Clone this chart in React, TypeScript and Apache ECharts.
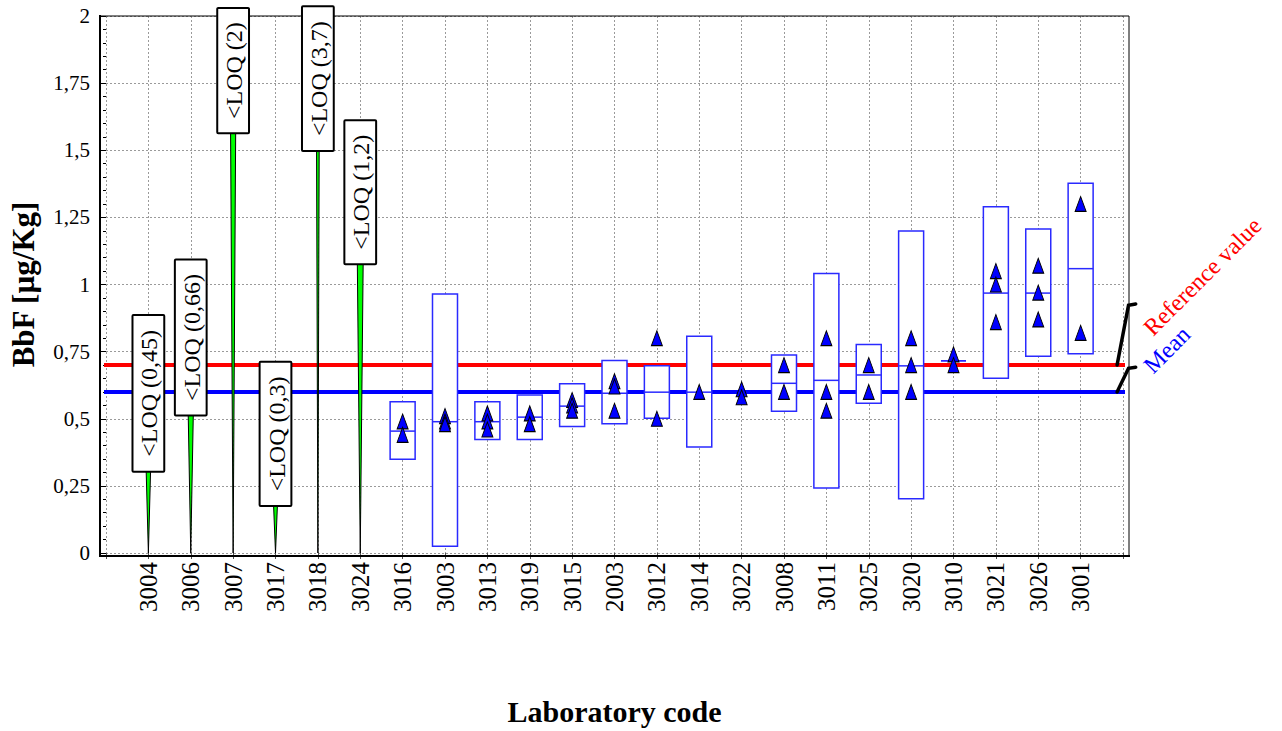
import React, { useEffect, useRef } from "react";
import * as echarts from "echarts";

// ---------- DATA ----------
const labCodes = [
  "3004", "3006", "3007", "3017", "3018", "3024", "3016", "3003", "3013", "3019", "3015", "2003",
  "3012", "3014", "3022", "3008", "3011", "3025", "3020", "3010", "3021", "3026", "3001",
];

// Labs reporting "<LOQ" (first six lab codes)
const loqValues = [0.45, 0.66, 2, 0.3, 3.7, 1.2];
const loqBoxLow = [0.303, 0.512, 1.563, 0.175, 1.497, 1.075];
const loqBoxHigh = [0.886, 1.093, 2.03, 0.712, 2.036, 1.612];

// Uncertainty boxes (aligned with labCodes; null = no box)
const boxLow = [null, null, null, null, null, null, 0.349, 0.025, 0.423, 0.423, 0.471, 0.481, 0.502, 0.395, null, 0.528, 0.242, 0.558, 0.202, 0.716, 0.651, 0.733, 0.742];
const boxMid = [null, null, null, null, null, null, 0.454, 0.489, 0.489, 0.506, 0.547, 0.595, 0.599, 0.599, null, 0.632, 0.643, 0.663, 0.697, 0.716, 0.968, 0.968, 1.059];
const boxHigh = [null, null, null, null, null, null, 0.563, 0.965, 0.563, 0.588, 0.63, 0.717, 0.697, 0.807, null, 0.737, 1.041, 0.777, 1.199, 0.716, 1.29, 1.207, 1.377];

// Individual results (triangles), aligned with labCodes
const results: number[][] = [
  [], [], [], [], [], [],
  [0.49, 0.44],
  [0.51, 0.49, 0.48],
  [0.52, 0.49, 0.46],
  [0.52, 0.48],
  [0.57, 0.55, 0.53],
  [0.64, 0.62, 0.53],
  [0.8, 0.5],
  [0.6],
  [0.61, 0.58],
  [0.7, 0.6],
  [0.8, 0.6, 0.53],
  [0.7, 0.6],
  [0.8, 0.7, 0.6],
  [0.74, 0.7],
  [1.05, 1.0, 0.86],
  [1.07, 0.97, 0.87],
  [1.3, 0.82],
];

const referenceValue = 0.7;
const meanValue = 0.6;
const yTicks = [0, 0.25, 0.5, 0.75, 1, 1.25, 1.5, 1.75, 2];

const annotationLabels = ["Reference value", "Mean"];
const annotationColors = ["#ff0000", "#0000ff"];
const annotationLineValues = [referenceValue, meanValue];
const annotationTopValues = [0.923, 0.688];
const annotationTextValues = [0.826, 0.685];

// ---------- STYLE CONSTANTS ----------
const FONT = "Liberation Serif";
const BOX_W = 0.59; // in category units
const LOQ_BOX_W = 0.75;
const BLUE_BOX = "#2a2aff";

export default function App() {
  const ref = useRef<HTMLDivElement>(null);

  useEffect(() => {
    if (!ref.current) return;
    const chart = echarts.init(ref.current, null, { renderer: "svg" });

    const loqData = loqValues.map((v, i) => [i + 1, v, loqBoxLow[i], loqBoxHigh[i]]);
    const boxData: number[][] = [];
    labCodes.forEach((_, i) => {
      if (boxLow[i] != null) boxData.push([i + 1, boxLow[i] as number, boxMid[i] as number, boxHigh[i] as number]);
    });
    const scatterData: number[][] = [];
    results.forEach((arr, i) => arr.forEach((v) => scatterData.push([i + 1, v])));
    const annData = annotationLabels.map((_, i) => [i, annotationLineValues[i], annotationTopValues[i], annotationTextValues[i]]);

    const fmtNum = (v: number) => String(v).replace(".", ",");

    const option: any = {
      animation: false,
      textStyle: { fontFamily: FONT },
      grid: { left: 104, right: 159, top: 16, bottom: 175, containLabel: false },
      xAxis: {
        type: "value",
        min: 0,
        max: 24,
        interval: 1,
        name: "Laboratory code",
        nameLocation: "middle",
        nameGap: 143,
        nameTextStyle: { fontFamily: FONT, fontSize: 30, fontWeight: "bold", color: "#000" },
        axisLine: { show: false },
        axisTick: { show: true, length: 6, lineStyle: { color: "#555", width: 1 } },
        axisLabel: {
          rotate: 90,
          margin: 9,
          fontFamily: FONT,
          fontSize: 25,
          color: "#000",
          formatter: (v: number) => labCodes[v - 1] ?? "",
        },
        splitLine: { show: true, lineStyle: { color: "#9a9a9a", type: [2, 2], width: 1 } },
      },
      yAxis: {
        type: "value",
        min: 0,
        max: 2,
        interval: 0.25,
        offset: 4,
        name: "BbF [µg/Kg]",
        nameLocation: "middle",
        nameGap: 63,
        nameTextStyle: { fontFamily: FONT, fontSize: 31, fontWeight: "bold", color: "#000" },
        axisLine: { show: false },
        axisTick: { show: true, length: 5, lineStyle: { color: "#000", width: 1 } },
        minorTick: { show: true, splitNumber: 5, length: 3, lineStyle: { color: "#000", width: 1 } },
        axisLabel: {
          margin: 12,
          fontFamily: FONT,
          fontSize: 21,
          color: "#000",
          formatter: (v: number) => (yTicks.includes(v) ? fmtNum(v) : ""),
        },
        splitLine: { show: true, lineStyle: { color: "#9a9a9a", type: [2, 2], width: 1 } },
      },
      graphic: [
        { type: "line", z: 1, silent: true, shape: { x1: 100, y1: 16, x2: 1129, y2: 16 }, style: { stroke: "#000", lineWidth: 1 } },
        { type: "line", z: 1, silent: true, shape: { x1: 1129, y1: 16, x2: 1129, y2: 557 }, style: { stroke: "#000", lineWidth: 1 } },
        { type: "line", z: 1, silent: true, shape: { x1: 100, y1: 15, x2: 100, y2: 557 }, style: { stroke: "#000", lineWidth: 2 } },
        { type: "line", z: 1, silent: true, shape: { x1: 99, y1: 556, x2: 1130, y2: 556 }, style: { stroke: "#000", lineWidth: 2 } },
      ],
      series: [
        {
          type: "line",
          name: "Reference value",
          data: [[-0.094, referenceValue], [24.07, referenceValue]],
          clip: false,
          symbol: "none",
          z: 2,
          lineStyle: { color: "#ff0000", width: 4 },
        },
        {
          type: "line",
          name: "Mean",
          data: [[-0.094, meanValue], [24.07, meanValue]],
          clip: false,
          symbol: "none",
          z: 2,
          lineStyle: { color: "#0000ff", width: 4 },
        },
        {
          type: "custom",
          name: "LOQ spikes",
          clip: true,
          z: 3,
          data: loqData,
          renderItem: (params: any, api: any) => {
            const x = api.value(0);
            const top = api.coord([x, api.value(1)]);
            const bot = api.coord([x, 0]);
            const hw = 3.25;
            return {
              type: "polygon",
              shape: { points: [[top[0] - hw, top[1]], [top[0] + hw, top[1]], [bot[0], bot[1]]] },
              style: { fill: "#00ff00", stroke: "#000", lineWidth: 1 },
            };
          },
        },
        {
          type: "custom",
          name: "LOQ labels",
          clip: false,
          z: 4,
          data: loqData,
          renderItem: (params: any, api: any) => {
            const x = api.value(0);
            const loq = api.value(1);
            const lo = api.coord([x, api.value(2)]);
            const hi = api.coord([x, api.value(3)]);
            const hw = api.size([LOQ_BOX_W, 0])[0] / 2;
            return {
              type: "group",
              children: [
                {
                  type: "rect",
                  shape: { x: lo[0] - hw, y: hi[1], width: hw * 2, height: lo[1] - hi[1], r: 1 },
                  style: { fill: "#fff", stroke: "#000", lineWidth: 2 },
                },
                {
                  type: "text",
                  x: lo[0] + 1,
                  y: (lo[1] + hi[1]) / 2,
                  rotation: Math.PI / 2,
                  style: {
                    text: `<LOQ (${fmtNum(loq)})`,
                    fontFamily: FONT,
                    fontSize: 24,
                    fill: "#000",
                    align: "center",
                    verticalAlign: "middle",
                  },
                },
              ],
            };
          },
        },
        {
          type: "custom",
          name: "Uncertainty",
          clip: false,
          z: 4,
          data: boxData,
          renderItem: (params: any, api: any) => {
            const x = api.value(0);
            const lo = api.coord([x, api.value(1)]);
            const mid = api.coord([x, api.value(2)]);
            const hi = api.coord([x, api.value(3)]);
            const hw = api.size([BOX_W, 0])[0] / 2;
            return {
              type: "group",
              children: [
                {
                  type: "rect",
                  shape: { x: lo[0] - hw, y: hi[1], width: hw * 2, height: lo[1] - hi[1] },
                  style: { fill: "#fff", stroke: BLUE_BOX, lineWidth: 1.5 },
                },
                {
                  type: "line",
                  shape: { x1: lo[0] - hw, y1: mid[1], x2: lo[0] + hw, y2: mid[1] },
                  style: { stroke: BLUE_BOX, lineWidth: 1.5 },
                },
              ],
            };
          },
        },
        {
          type: "scatter",
          name: "Results",
          z: 5,
          data: scatterData,
          symbol: "triangle",
          symbolSize: [11, 15],
          itemStyle: { color: "#0000ff", borderColor: "#000", borderWidth: 1, opacity: 1 },
        },
        {
          type: "custom",
          name: "Annotations",
          clip: false,
          z: 5,
          data: annData,
          renderItem: (params: any, api: any) => {
            const i = api.value(0);
            const p0 = api.coord([23.86, api.value(1)]);
            const p1 = api.coord([24.13, api.value(2)]);
            const p2 = api.coord([24.3, api.value(2) + 0.004]);
            const t = api.coord([24.58, api.value(3)]);
            return {
              type: "group",
              children: [
                {
                  type: "polyline",
                  shape: { points: [p0, p1, p2] },
                  style: { stroke: "#000", lineWidth: 3.5, fill: "none", lineCap: "round" },
                },
                {
                  type: "text",
                  x: t[0],
                  y: t[1],
                  rotation: Math.PI / 4,
                  style: {
                    text: annotationLabels[i],
                    fontFamily: FONT,
                    fontSize: 24,
                    fill: annotationColors[i],
                    align: "left",
                    verticalAlign: "middle",
                  },
                },
              ],
            };
          },
        },
      ],
    };

    chart.setOption(option);
    return () => chart.dispose();
  }, []);

  return (
    <div
      ref={ref}
      style={{ position: "absolute", left: 0, top: 0, width: 1282, height: 731, background: "#fff" }}
    />
  );
}
